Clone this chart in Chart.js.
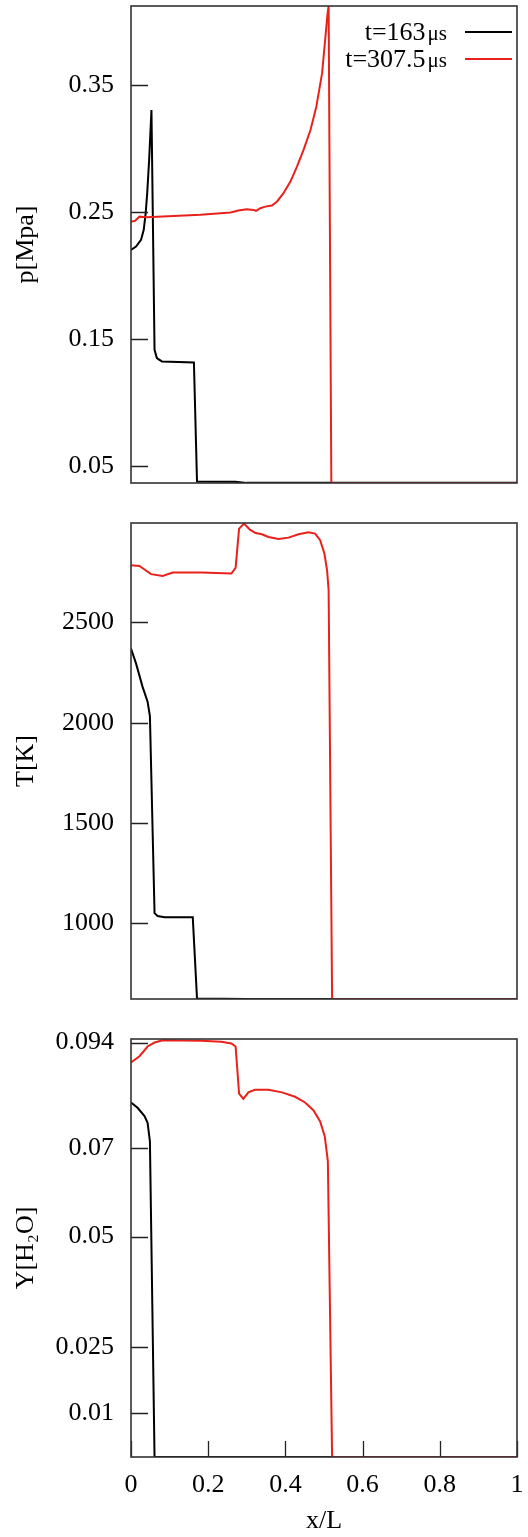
<!DOCTYPE html>
<html>
<head>
<meta charset="utf-8">
<script src="https://cdn.jsdelivr.net/npm/chart.js@4.4.1/dist/chart.umd.min.js"></script>
<style>
  html, body { margin: 0; padding: 0; background: #fff; }
  .panel { position: absolute; left: 0; width: 528px; }
</style>
</head>
<body>
<div class="panel" style="top:0px;height:500px"><canvas id="chartP" width="528" height="500"></canvas></div>
<div class="panel" style="top:500px;height:515px"><canvas id="chartT" width="528" height="515"></canvas></div>
<div class="panel" style="top:1015px;height:522px"><canvas id="chartY" width="528" height="522"></canvas></div>
<script>
// dados (x/L)
const xTicks = [0, 0.2, 0.4, 0.6, 0.8, 1];
const legendTimes = ['t=163', 't=307.5'];
const legendUnit = '\u03bcs';

// pressao [MPa]
const pTicks = [0.05, 0.15, 0.25, 0.35];
const xP163 = [0, 0.013, 0.026, 0.033, 0.038, 0.042, 0.047, 0.053, 0.061, 0.067, 0.080, 0.163, 0.171, 0.27, 0.30, 1];
const pP163 = [0.2203, 0.2229, 0.2282, 0.2361, 0.2492, 0.2650, 0.2912, 0.3306, 0.1416, 0.1350, 0.1324, 0.1316, 0.0378, 0.0376, 0.0367, 0.0367];
const xP307 = [0, 0.010, 0.022, 0.040, 0.180, 0.258, 0.278, 0.300, 0.317, 0.324, 0.335, 0.348, 0.365, 0.378, 0.395, 0.413, 0.430, 0.447, 0.465, 0.480, 0.495, 0.503, 0.509, 0.512, 0.519, 1];
const pP307 = [0.2426, 0.2430, 0.2465, 0.2460, 0.2479, 0.2497, 0.2513, 0.2524, 0.2518, 0.2510, 0.2531, 0.2544, 0.2552, 0.2583, 0.2650, 0.2741, 0.2859, 0.2991, 0.3148, 0.3330, 0.3594, 0.3857, 0.4060, 0.4125, 0.0366, 0.0366];

// temperatura [K]
const tTicks = [1000, 1500, 2000, 2500];
const xT163 = [0, 0.013, 0.030, 0.043, 0.049, 0.061, 0.069, 0.087, 0.160, 0.171, 0.30, 1];
const tT163 = [2370, 2296, 2179, 2105, 2033, 1051, 1037, 1031, 1031, 626, 623, 623];
const xT307 = [0, 0.022, 0.035, 0.052, 0.082, 0.108, 0.182, 0.260, 0.271, 0.280, 0.293, 0.308, 0.323, 0.339, 0.356, 0.382, 0.408, 0.434, 0.460, 0.477, 0.490, 0.501, 0.508, 0.512, 0.521, 1];
const tT307 = [2785, 2782, 2764, 2741, 2732, 2749, 2749, 2744, 2772, 2968, 2993, 2963, 2946, 2940, 2926, 2916, 2923, 2940, 2950, 2943, 2910, 2844, 2760, 2661, 623, 623];

// fracao massica de H2O
const yTicks = [0.01, 0.025, 0.05, 0.07, 0.094];
const xY163 = [0, 0.017, 0.035, 0.043, 0.049, 0.061, 1];
const yY163 = [0.0804, 0.0792, 0.0773, 0.0758, 0.0716, 0, 0];
const xY307 = [0, 0.022, 0.043, 0.061, 0.082, 0.182, 0.234, 0.260, 0.271, 0.280, 0.291, 0.304, 0.321, 0.356, 0.391, 0.425, 0.451, 0.473, 0.490, 0.502, 0.510, 0.521, 1];
const yY307 = [0.0895, 0.0909, 0.0931, 0.0940, 0.0945, 0.0944, 0.0942, 0.0938, 0.0931, 0.0824, 0.0812, 0.0827, 0.0833, 0.0833, 0.0827, 0.0817, 0.0804, 0.0786, 0.0761, 0.0727, 0.0671, 0, 0];

const FONTE = "'Liberation Serif', 'Times New Roman', serif";
const TAM = 26;
const PRETO = '#000000';
const VERMELHO = '#e8221b';

function pontos(xs, ys) {
    return xs.map((x, i) => ({ x: x, y: ys[i] }));
}

// moldura e ticks para dentro
const molduraPlugin = {
    id: 'moldura',
    afterDraw(chart, args, opts) {
        const { ctx, chartArea: a, scales } = chart;
        ctx.save();
        ctx.strokeStyle = '#222';
        ctx.lineWidth = 1.3;
        ctx.beginPath();
        scales.y.ticks.forEach(t => {
            const py = Math.round(scales.y.getPixelForValue(t.value)) + 0.5;
            ctx.moveTo(a.left, py);
            ctx.lineTo(a.left + 17, py);
        });
        if (opts.xTicks) {
            xTicks.forEach(v => {
                const px = Math.round(scales.x.getPixelForValue(v)) + 0.5;
                ctx.moveTo(px, a.bottom);
                ctx.lineTo(px, a.bottom - 16);
            });
        }
        ctx.stroke();
        ctx.lineWidth = 1.6;
        ctx.strokeStyle = '#333';
        ctx.strokeRect(a.left, a.top, a.right - a.left, a.bottom - a.top);
        ctx.restore();
    }
};

// legenda no canto superior direito
const legendaPlugin = {
    id: 'legenda',
    afterDraw(chart, args, opts) {
        if (!opts.show) return;
        const ctx = chart.ctx;
        const cores = [PRETO, VERMELHO];
        ctx.save();
        ctx.textBaseline = 'middle';
        ctx.textAlign = 'right';
        legendTimes.forEach((txt, i) => {
            const y = 32 + i * 27;
            ctx.fillStyle = '#000';
            ctx.font = '21px ' + FONTE;
            const wu = ctx.measureText(legendUnit).width;
            ctx.fillText(legendUnit, 447, y + 2);
            ctx.font = TAM + 'px ' + FONTE;
            ctx.fillText(txt, 447 - wu - 2, y + 1);
            ctx.strokeStyle = cores[i];
            ctx.lineWidth = 2;
            ctx.beginPath();
            ctx.moveTo(465, y);
            ctx.lineTo(512, y);
            ctx.stroke();
        });
        ctx.restore();
    }
};

function criarPainel(id, dados, cfg) {
    const ctx = document.getElementById(id);
    return new Chart(ctx, {
        type: 'scatter',
        data: {
            datasets: [
                { data: dados[0], borderColor: PRETO, showLine: true, pointRadius: 0, borderWidth: 2, order: 1 },
                { data: dados[1], borderColor: VERMELHO, showLine: true, pointRadius: 0, borderWidth: 2, order: 0 }
            ]
        },
        options: {
            responsive: false,
            animation: false,
            devicePixelRatio: 1,
            layout: { padding: cfg.padding },
            plugins: {
                legend: { display: false },
                tooltip: { enabled: false },
                moldura: { xTicks: cfg.showX },
                legenda: { show: cfg.legend }
            },
            scales: {
                x: {
                    type: 'linear',
                    min: 0,
                    max: 1,
                    display: cfg.showX,
                    grid: { display: false, drawTicks: false },
                    border: { display: false },
                    afterBuildTicks: s => { s.ticks = xTicks.map(v => ({ value: v })); },
                    afterFit: s => {
                        if (cfg.showX) s.height = 80;
                        s.paddingLeft = 0; s.paddingRight = 0;
                    },
                    ticks: {
                        padding: 13,
                        maxRotation: 0,
                        color: '#000',
                        font: { family: FONTE, size: TAM },
                        callback: v => String(v)
                    },
                    title: {
                        display: cfg.showX,
                        text: 'x/L',
                        color: '#000',
                        font: { family: FONTE, size: TAM },
                        padding: { top: 0, bottom: 0 }
                    }
                },
                y: {
                    type: 'linear',
                    min: cfg.min,
                    max: cfg.max,
                    grid: { display: false, drawTicks: false },
                    border: { display: false },
                    afterBuildTicks: s => { s.ticks = cfg.ticks.map(v => ({ value: v })); },
                    afterFit: s => {
                        s.width = 131;
                        s.paddingTop = 0; s.paddingBottom = 0;
                    },
                    ticks: {
                        padding: 17,
                        color: '#000',
                        font: { family: FONTE, size: TAM },
                        callback: v => String(v)
                    },
                    title: {
                        display: true,
                        text: cfg.titulo,
                        color: '#000',
                        font: { family: FONTE, size: TAM },
                        padding: { top: 11, bottom: 0 }
                    }
                }
            }
        },
        plugins: [molduraPlugin, legendaPlugin]
    });
}

criarPainel('chartP', [pontos(xP163, pP163), pontos(xP307, pP307)], {
    min: 0.0366, max: 0.4125, ticks: pTicks, titulo: 'p[Mpa]',
    padding: { top: 6, bottom: 17, left: 0, right: 11 }, showX: false, legend: true
});

criarPainel('chartT', [pontos(xT163, tT163), pontos(xT307, tT307)], {
    min: 623, max: 2996, ticks: tTicks, titulo: 'T[K]',
    padding: { top: 23, bottom: 16, left: 0, right: 11 }, showX: false, legend: false
});

criarPainel('chartY', [pontos(xY163, yY163), pontos(xY307, yY307)], {
    min: 0, max: 0.0948, ticks: yTicks, titulo: 'Y[H\u2082O]',
    padding: { top: 24, bottom: 0, left: 0, right: 11 }, showX: true, legend: false
});
</script>
</body>
</html>
